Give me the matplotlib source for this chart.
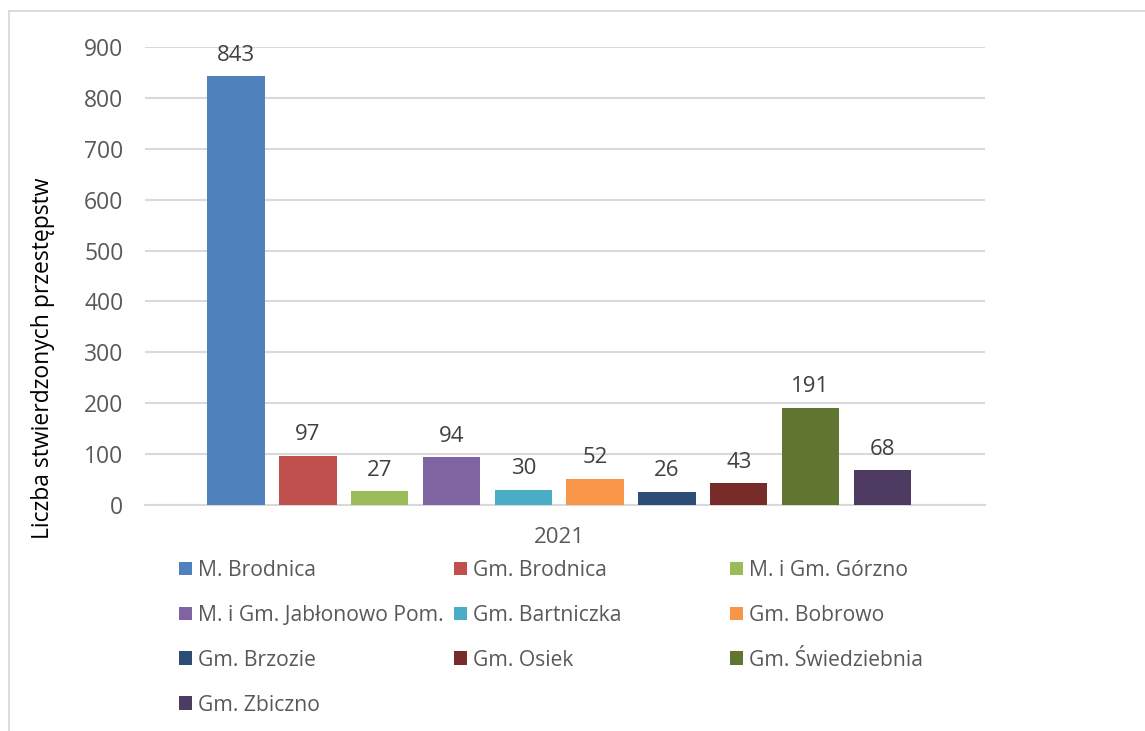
import matplotlib
matplotlib.use("Agg")
import matplotlib.pyplot as plt
from matplotlib.patches import Patch
from matplotlib.lines import Line2D

# data (year 2021)
gminy = ["M. Brodnica", "Gm. Brodnica", "M. i Gm. Górzno",
         "M. i Gm. Jabłonowo Pom.", "Gm. Bartniczka", "Gm. Bobrowo",
         "Gm. Brzozie", "Gm. Osiek", "Gm. Świedziebnia", "Gm. Zbiczno"]
przestepstwa = [843, 97, 27, 94, 30, 52, 26, 43, 191, 68]
kolory = ["#4F81BD", "#C0504D", "#9BBB59", "#8064A2", "#4BACC6",
          "#F79646", "#2C4D75", "#772C2A", "#5F7530", "#4D3B62"]
rok = "2021"
y_ticks = [0, 100, 200, 300, 400, 500, 600, 700, 800, 900]

plt.rcParams['font.family'] = ['Open Sans', 'DejaVu Sans']
grey_txt = "#595959"
grid_col = "#D9D9D9"

W, H = 1145, 731
fig = plt.figure(figsize=(W / 100, H / 100), dpi=100)

# plot area in pixels: x 145..985, y 47..505
ax = fig.add_axes([145 / W, 1 - 505 / H, 840 / W, 458 / H])

x = list(range(len(gminy)))
bars = ax.bar(x, przestepstwa, width=0.8, color=kolory, zorder=3)

for b, v in zip(bars, przestepstwa):
    ax.annotate(f"{v}", xy=(b.get_x() + b.get_width() / 2, b.get_height()),
                xytext=(0, 15), textcoords="offset points",
                ha="center", va="center", fontsize=16, color="#404040")

ax.set_xlim(-1.27, 10.43)
ax.set_ylim(0, 900)
ax.set_yticks(y_ticks)
ax.tick_params(axis="y", length=0, labelsize=16.5, colors=grey_txt, pad=15.5)
ax.set_xticks([4.5])
ax.set_xticklabels([rok])
ax.tick_params(axis="x", length=0, labelsize=16, colors=grey_txt, pad=16)
ax.grid(axis="y", color=grid_col, linewidth=1.5, zorder=0)
for s in ["top", "right", "left"]:
    ax.spines[s].set_visible(False)
ax.spines["bottom"].set_color(grid_col)
ax.spines["bottom"].set_linewidth(1.5)

ax.set_ylabel("Liczba stwierdzonych przestępstw", fontsize=16.5, color="#000000")
ax.yaxis.set_label_coords(-0.107, 0.321)

# legend: row-major, three columns, drawn as three column legends
kolumny_x = [179, 454, 730]
for c in range(3):
    idx = list(range(c, len(gminy), 3))
    handles = [Patch(facecolor=kolory[i], edgecolor="none") for i in idx]
    labels = [gminy[i] for i in idx]
    fig.legend(handles, labels, loc="upper left",
               bbox_to_anchor=(kolumny_x[c] / W, 1 - 560 / H),
               frameon=False, fontsize=15.2, labelcolor=grey_txt,
               handlelength=0.62, handleheight=0.62, handletextpad=0.3,
               labelspacing=1.13, borderpad=0, borderaxespad=0)

# outer chart border (light grey, top and left visible)
fig.add_artist(Line2D([8.5 / W, 1], [1 - 10.5 / H, 1 - 10.5 / H],
                      color=grid_col, linewidth=1.3))
fig.add_artist(Line2D([8.5 / W, 8.5 / W], [0, 1 - 10.5 / H],
                      color=grid_col, linewidth=1.3))

fig.savefig("out.png", dpi=100)
plt.close(fig)
